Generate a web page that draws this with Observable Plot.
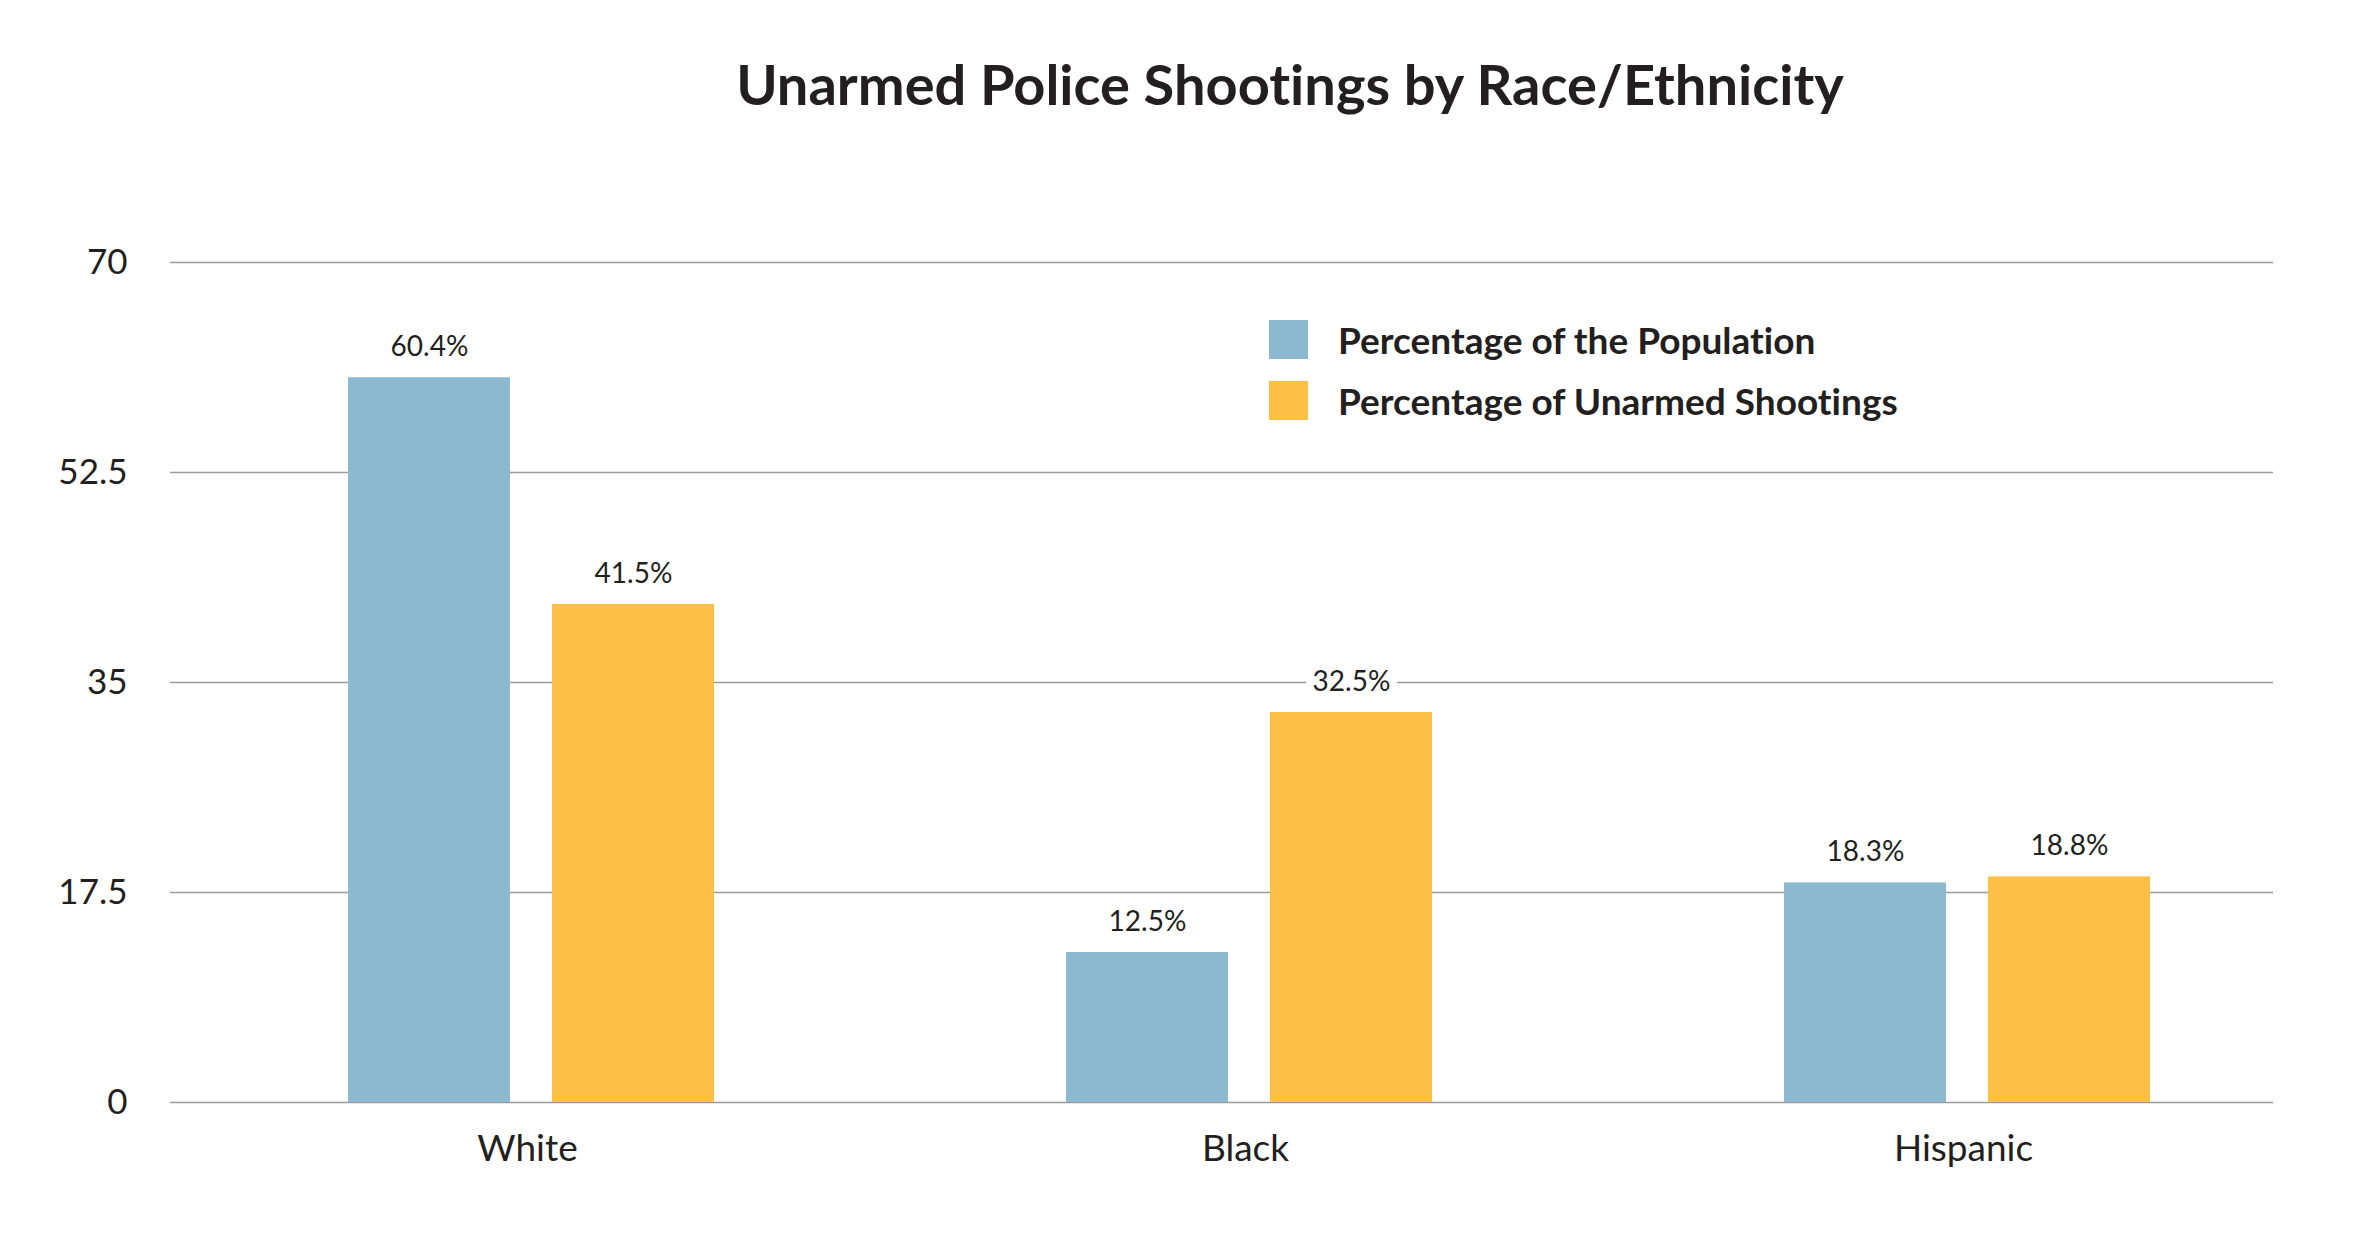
<!DOCTYPE html>
<html>
<head>
<meta charset="utf-8">
<script src="https://cdn.jsdelivr.net/npm/d3@7"></script>
<script src="https://cdn.jsdelivr.net/npm/@observablehq/plot@0.6"></script>
<style>
  html, body { margin: 0; padding: 0; background: #fff; }
  #wrap { position: relative; width: 2370px; height: 1246px; font-family: Lato, "Open Sans", sans-serif; color: #231f20;
          font-variant-ligatures: none; font-feature-settings: "liga" 0, "clig" 0; }
  #title { box-sizing: border-box; height: 150px; padding-top: 50px; padding-left: 210px; text-align: center;
           font-size: 56px; font-weight: 700; line-height: 1.2; white-space: nowrap; }
  #legend { position: absolute; left: 1269px; top: 320px; }
  .row { display: flex; align-items: center; height: 39px; margin-bottom: 22px; }
  .sw { width: 39px; height: 39px; flex: none; }
  .lab { margin-left: 30px; font-size: 37px; font-weight: 700; line-height: 39px; white-space: nowrap; }
</style>
</head>
<body>
<div id="wrap">
  <div id="title"></div>
  <div id="chart"></div>
  <div id="legend"></div>
</div>
<script>
const titleText = "Unarmed Police Shootings by Race/Ethnicity";
const categories = ["White", "Black", "Hispanic"];
const seriesNames = ["Percentage of the Population", "Percentage of Unarmed Shootings"];
const population = [60.4, 12.5, 18.3];
const shootings = [41.5, 32.5, 18.8];
const yTicks = [0, 17.5, 35, 52.5, 70];
const colors = ["#8DB9D0", "#FDC045"];

const popRows = categories.map((c, i) => ({category: c, value: population[i]}));
const shootRows = categories.map((c, i) => ({category: c, value: shootings[i]}));

document.getElementById("title").textContent = titleText;

const labelStyle = {
  x: "category", y: "value", text: d => d.value.toFixed(1) + "%",
  dy: -22, lineAnchor: "bottom", fontSize: 28, fill: "#231f20",
  stroke: "white", strokeWidth: 16
};

const chart = Plot.plot({
  width: 2370,
  height: 1096,
  marginTop: 112,
  marginBottom: 144,
  marginLeft: 171,
  marginRight: 45,
  x: {domain: categories, padding: 0, label: null},
  y: {domain: [0, 70], label: null},
  style: {fontFamily: "Lato, 'Open Sans', sans-serif", color: "#231f20", background: "white", overflow: "visible"},
  marks: [
    Plot.ruleY(yTicks, {stroke: "#9a9a9a", strokeWidth: 1.6, insetLeft: -1, insetRight: 52}),
    Plot.barY(popRows, {x: "category", y: "value", fill: colors[0], insetLeft: 177, insetRight: 379}),
    Plot.barY(shootRows, {x: "category", y: "value", fill: colors[1], insetLeft: 381, insetRight: 175}),
    Plot.text(popRows, {...labelStyle, dx: -101}),
    Plot.text(shootRows, {...labelStyle, dx: 103}),
    Plot.axisY({ticks: yTicks, tickFormat: d => String(d), tickSize: 0, tickPadding: 44, fontSize: 35, label: null}),
    Plot.axisX({tickSize: 0, tickPadding: 32, fontSize: 37, label: null, dx: -3})
  ]
});
document.getElementById("chart").appendChild(chart);

const legend = document.getElementById("legend");
seriesNames.forEach((name, i) => {
  const row = document.createElement("div");
  row.className = "row";
  const sw = document.createElement("div");
  sw.className = "sw";
  sw.style.background = colors[i];
  const lab = document.createElement("div");
  lab.className = "lab";
  lab.textContent = name;
  row.appendChild(sw);
  row.appendChild(lab);
  legend.appendChild(row);
});
</script>
</body>
</html>
